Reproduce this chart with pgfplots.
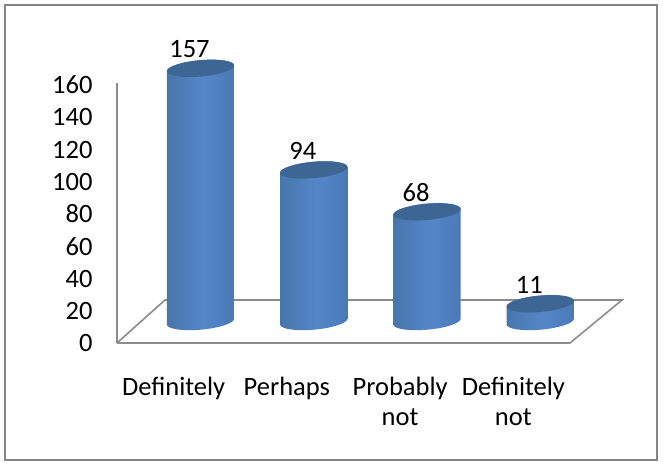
\documentclass[border=0pt]{standalone}
\usepackage{fontspec}
\setmainfont{Carlito}
\usepackage{pgfplots}
\usepackage{pgfplotstable}
\pgfplotsset{compat=1.18}

\definecolor{framegray}{HTML}{868686}
\definecolor{axisgray}{HTML}{8C8C8C}
\definecolor{captop}{HTML}{3D6695}
\pgfdeclarehorizontalshading{cylshade}{100bp}{
  rgb(0bp)=(.200,.353,.541); rgb(12bp)=(.255,.431,.620); rgb(52bp)=(.333,.529,.784);
  rgb(80bp)=(.282,.463,.698); rgb(100bp)=(.176,.322,.482)}

\pgfplotstableread{
idx value
0   157
1   94
2   68
3   11
}\answers

\begin{document}
\begin{tikzpicture}[x=1pt,y=1pt]
  \useasboundingbox (-117,-122) rectangle (546,343);
  \draw[framegray,line width=1.5pt] (-112,-117) rectangle (540,338);
  % floor of the 3d box
  \draw[axisgray,line width=1.6pt] (0,0) -- (48,43) -- (505,43) -- (453,0);
  \begin{axis}[
    at={(0pt,0pt)}, anchor=south west,
    scale only axis, width=453pt, height=260pt,
    xmin=-0.5, xmax=3.5, ymin=0, ymax=161.25,
    axis x line*=bottom, axis y line*=left,
    axis line style={draw=axisgray,line width=1.6pt,-},
    xtick=data,
    xticklabels={Definitely,Perhaps,{Probably\\not},{Definitely\\not}},
    x tick label style={align=center,yshift=-31pt,
      font=\fontsize{26.5}{30}\selectfont},
    ytick={0,20,...,160},
    y tick label style={xshift=-21pt,font=\fontsize{26.5}{26.5}\selectfont},
    /pgf/number format/assume math mode=true,
    major tick length=0pt,
    clip=false,
  ]
    % cylinders, height taken from the value
    \addplot[
      only marks, draw=none, mark=*, mark size=0pt,
      scatter,
      visualization depends on={rawy*1.6124 \as \h},
      scatter/@pre marker code/.code={
        \pgfscope
        \pgftransformcm{1}{0.085}{0}{1}{\pgfqpoint{26.9pt}{21.5pt}}
        \pgfpathmoveto{\pgfqpoint{-33.7pt}{0pt}}
        \pgfpatharc{180}{0}{33.7pt and 8.2pt}
        \pgfpathlineto{\pgfpoint{33.7pt}{-\h pt}}
        \pgfpatharc{0}{-180}{33.7pt and 8.2pt}
        \pgfpathclose
        \pgfshadepath{cylshade}{0}
        \pgfusepath{discard}
        \pgfsetfillcolor{captop}
        \pgfpathellipse{\pgfpointorigin}{\pgfqpoint{33.7pt}{0pt}}{\pgfqpoint{0pt}{8.2pt}}
        \pgfusepath{fill}
        \endpgfscope
      },
      scatter/@post marker code/.code={},
    ] table[x=idx,y=value] {\answers};
    % value labels
    \addplot[
      draw=none, mark=*, mark size=0pt,
      nodes near coords,
      every node near coord/.style={anchor=center,xshift=15.9pt,yshift=40.5pt,
        font=\fontsize{26.5}{26.5}\selectfont,
        /pgf/number format/assume math mode=true},
    ] table[x=idx,y=value] {\answers};
  \end{axis}
\end{tikzpicture}
\end{document}
